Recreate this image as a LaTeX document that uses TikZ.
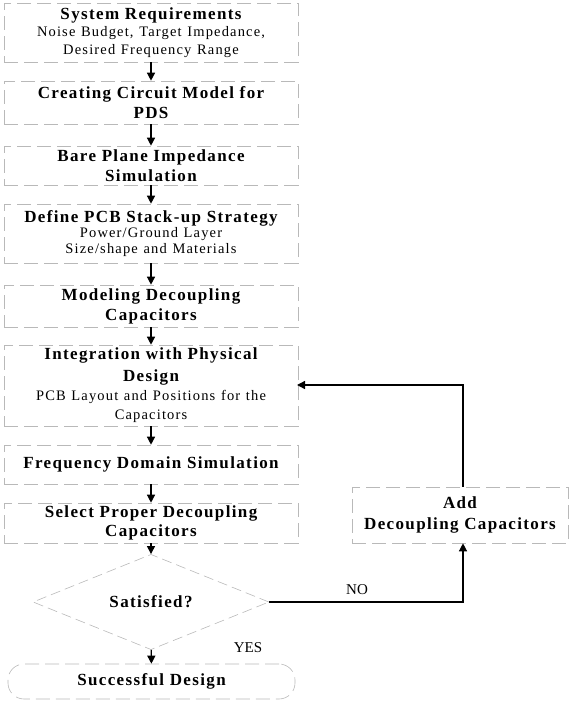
\documentclass[tikz,border=0pt]{standalone}
\usepackage{fontspec}
\setmainfont{Liberation Serif}
\newfontfamily\tfont{Liberation Serif}[LetterSpace=8,WordSpace=1.6]
\usetikzlibrary{shapes.geometric,arrows.meta}
\newcommand\Ttl{\tfont\bfseries\fontsize{17}{20}\selectfont}
\newcommand\Subt{\tfont\mdseries\fontsize{14.5}{17}\selectfont}
\begin{document}
\begin{tikzpicture}[x=1pt,y=-1pt,
  box/.style={draw=gray!55, line width=0.6pt, dash pattern=on 14pt off 6pt,
    minimum width=294pt, inner sep=0pt, align=center, text width=292pt, font=\Ttl},
  arr/.style={line width=1.3pt, -{Triangle[length=8pt,width=8pt]}},
  lbl/.style={font=\fontsize{15}{18}\selectfont, inner sep=0pt}]
\useasboundingbox (0,0) rectangle (568,707);
\node[box, minimum height=59pt] (b1) at (151,32.5)
  {System Requirements\\[0pt] \Subt Noise Budget, Target Impedance,\\[-2pt] Desired Frequency Range};
\node[box, minimum height=43pt] (b2) at (151,102.5)
  {Creating Circuit Model for\\ PDS};
\node[box, minimum height=39pt] (b3) at (151,165.5)
  {Bare Plane Impedance\\ Simulation};
\node[box, minimum height=59pt] (b4) at (151,233.5)
  {Define PCB Stack-up Strategy\\[-2pt] \Subt Power/Ground Layer\\[-4pt] Size/shape and Materials};
\node[box, minimum height=42pt] (b5) at (151,306)
  {Modeling Decoupling\\ Capacitors};
\node[box, minimum height=81pt] (b6) at (151,385.5)
  {Integration with Physical\\[2pt] Design\\[2pt] \Subt PCB Layout and Positions for the\\[-1pt] Capacitors};
\node[box, minimum height=39pt] (b7) at (151,464.5)
  {Frequency Domain Simulation};
\node[box, minimum height=40pt] (b8) at (151,523)
  {Select Proper Decoupling\\[-1pt] Capacitors};
\node[draw=gray!55, line width=0.6pt, dash pattern=on 10pt off 5pt, diamond,
  minimum width=236pt, minimum height=80pt, inner sep=0pt, font=\Ttl] (d) at (151,602)
  {Satisfied?};
\node[box, rounded corners=16pt, minimum width=287pt, text width=280pt, minimum height=35pt] (fin) at (151.5,681.5)
  {Successful Design};
\node[box, minimum width=216pt, text width=214pt, minimum height=56pt] (add) at (460,515)
  {Add\\[1pt] Decoupling Capacitors};
\coordinate (ret) at (297,385);
\draw[arr] (b1) -- (b2);
\draw[arr] (b2) -- (b3);
\draw[arr] (b3) -- (b4);
\draw[arr] (b4) -- (b5);
\draw[arr] (b5) -- (b6);
\draw[arr] (b6) -- (b7);
\draw[arr] (b7) -- (b8);
\draw[arr] (b8) -- (d);
\draw[arr] (d) -- (fin);
\draw[arr] (d.east) -| ([xshift=3pt]add.south);
\draw[arr] ([xshift=3pt]add.north) |- (ret);
\node[lbl] (no) at (357,590) {NO};
\node[lbl] (yes) at (248,648) {YES};
\end{tikzpicture}
\end{document}
